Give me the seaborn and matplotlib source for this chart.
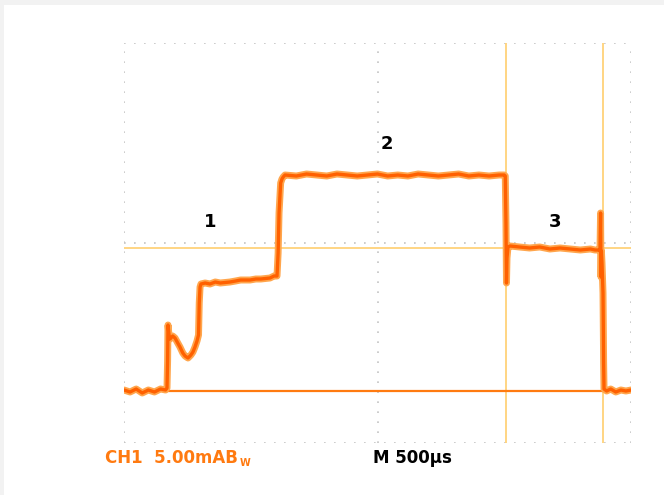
import matplotlib
matplotlib.use("Agg")
import matplotlib.pyplot as plt
import seaborn as sns
import pandas as pd

# --- DATA (time in us, current in mA) ---
time_us = [0, 60, 120, 180, 240, 300, 360, 410, 424, 430, 434, 444, 454, 480, 503,
           530, 552, 580, 602, 631, 660, 680, 700, 720, 735, 742, 750, 759, 800,
           848, 900, 950, 1045, 1100, 1150, 1243, 1300, 1350, 1440, 1480, 1509,
           1520, 1529, 1545, 1558, 1570, 1588, 1700, 1800, 1900, 2000, 2100, 2200,
           2300, 2400, 2500, 2600, 2700, 2800, 2900, 3000, 3100, 3200, 3300, 3400,
           3500, 3600, 3700, 3750, 3760, 3767, 3772, 3777, 3787, 3807, 3900, 4000,
           4100, 4200, 4300, 4400, 4500, 4600, 4645, 4680, 4694, 4700, 4704, 4708,
           4714, 4724, 4730, 4734, 4760, 4800, 4850, 4900, 4950, 5000]
current_ma = [-14.7, -14.9, -14.6, -15.0, -14.7, -14.9, -14.6, -14.7, -14.5, -11.8,
              -8.2, -9.2, -9.6, -9.3, -9.5, -10.0, -10.4, -11.0, -11.3, -11.5,
              -11.2, -10.9, -10.4, -9.8, -9.2, -6.0, -4.4, -4.1, -4.0, -4.1, -3.9,
              -4.0, -3.9, -3.8, -3.7, -3.7, -3.6, -3.6, -3.5, -3.3, -3.3, -1.0,
              3.0, 6.0, 6.4, 6.6, 6.8, 6.7, 6.9, 6.8, 6.7, 6.9, 6.8, 6.7, 6.8, 6.9,
              6.7, 6.8, 6.7, 6.9, 6.8, 6.7, 6.8, 6.9, 6.7, 6.8, 6.7, 6.8, 6.8, 6.7,
              2.0, -4.0, -1.5, -0.4, -0.3, -0.4, -0.5, -0.4, -0.6, -0.5, -0.6, -0.7,
              -0.6, -0.7, -0.7, -0.8, 3.0, -3.4, -0.8, -2.0, -5.0, -12.0, -14.6,
              -14.8, -14.6, -14.9, -14.7, -14.8, -14.7]

cursor_t = [3767, 4724]
cursor_level = -0.5
ground_level = -14.75

labels = ["1", "2", "3"]
label_t = [850, 2594, 4250]
label_ma = [2.1, 9.9, 2.1]

df = pd.DataFrame({"t": time_us, "i": current_ma})

sns.set_theme(style="white")

fig = plt.figure(figsize=(6.64, 4.95), dpi=100, facecolor="#f2f2f2")
fig.patches.append(plt.Rectangle((4 / 664, 0), 1, 1 - 5 / 495, transform=fig.transFigure,
                                 facecolor="white", edgecolor="none", zorder=-10))
ax = fig.add_axes([124 / 664, 1 - 443 / 495, 507 / 664, 400 / 495])
ax.set_facecolor("none")
ax.set_xlim(0, 5000)
ax.set_ylim(-20, 20)

# graticule: dotted frame and centre cross
grid_kw = dict(color="#c4c4c4", lw=1.2, linestyle=(0, (1, 5)), zorder=1)
for v in [0, 2500, 5000]:
    ax.axvline(v, **grid_kw)
for h in [-20, 0, 20]:
    ax.axhline(h, **grid_kw)

# cursors and ground marker
for c in cursor_t:
    ax.axvline(c, color="#ffd27a", lw=1.3, zorder=2)
ax.axhline(cursor_level, color="#ffd27a", lw=1.3, zorder=2)
ax.axhline(ground_level, xmin=424 / 5000, color="#ff7a10", lw=1.6, zorder=2)

# trace
sns.lineplot(data=df, x="t", y="i", ax=ax, color="#ffa64d", lw=5, zorder=3,
             estimator=None, sort=False)
sns.lineplot(data=df, x="t", y="i", ax=ax, color="#ff6000", lw=2.4, zorder=4,
             estimator=None, sort=False)

for lab, x, y in zip(labels, label_t, label_ma):
    ax.text(x, y, lab, fontsize=13, fontweight="bold", color="black",
            ha="center", va="center", zorder=5)

for s in ax.spines.values():
    s.set_visible(False)
ax.set_xticks([])
ax.set_yticks([])
ax.set_xlabel("")
ax.set_ylabel("")

fam = ["Liberation Sans Narrow", "DejaVu Sans"]
fig.text(105 / 664, 1 - 458 / 495, "CH1  5.00mAB", family=fam, fontsize=12,
         fontweight="bold", color="#ff7a10", va="center", ha="left")
fig.text(240 / 664, 1 - 463 / 495, "W", family=fam, fontsize=7,
         fontweight="bold", color="#ff7a10", va="center", ha="left")
fig.text(373 / 664, 1 - 458 / 495, "M 500\u00b5s", family=fam, fontsize=12,
         fontweight="bold", color="black", va="center", ha="left")

fig.savefig("out.png", dpi=100, facecolor=fig.get_facecolor())
